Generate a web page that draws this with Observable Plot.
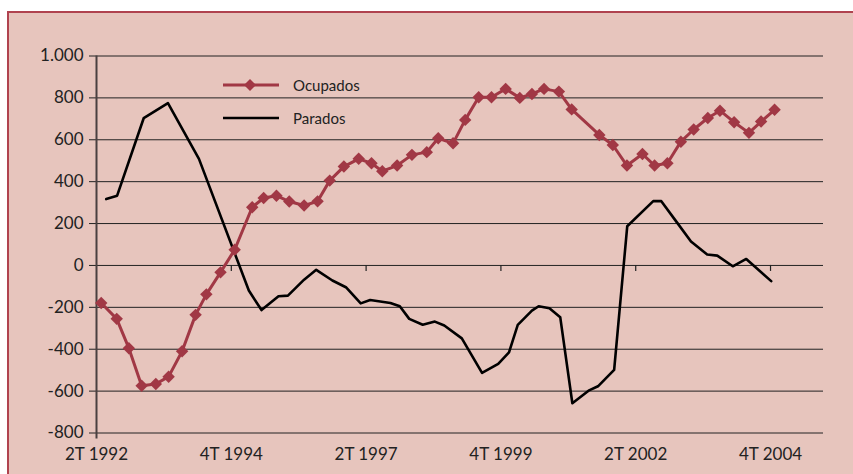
<!DOCTYPE html>
<html>
<head>
<meta charset="utf-8">
<script src="https://cdn.jsdelivr.net/npm/d3@7"></script>
<script src="https://cdn.jsdelivr.net/npm/@observablehq/plot@0.6"></script>
<style>
  html, body { margin: 0; padding: 0; background: #fff; }
  #wrap { position: relative; width: 853px; height: 474px; overflow: hidden; background: #fff; }
  #panel { position: absolute; left: 7px; top: 11px; width: 860px; height: 480px;
           background: #e7c5bd; border: 2px solid #b0434f; box-sizing: border-box; }
  #chart { position: absolute; left: 0; top: 0; }
  #legend { position: absolute; left: 0; top: 0; font-family: Lato, sans-serif; font-size: 15px; color: #222; }
  .lg-item { position: absolute; display: flex; align-items: center; }
  .lg-item span { margin-left: 14px; }
</style>
</head>
<body>
<div id="wrap">
  <div id="panel"></div>
  <div id="chart"></div>
  <div id="legend"></div>
</div>
<script>
// Tick labels / axis values
const xTickQuarters = [0, 10, 20, 30, 40, 50];
const xTickLabels = ["2T 1992", "4T 1994", "2T 1997", "4T 1999", "2T 2002", "4T 2004"];
const yTicks = [-800, -600, -400, -200, 0, 200, 400, 600, 800, 1000];

// Series names
const seriesNames = ["Ocupados", "Parados"];

// Ocupados: position (quarters since 2T 1992) and value
const ocupadosQ = [0.35, 1.5, 2.4, 3.35, 4.4, 5.35, 6.35, 7.35, 8.15, 9.2,
  10.25, 11.55, 12.4, 13.35, 14.3, 15.4, 16.4, 17.3, 18.35, 19.45,
  20.4, 21.2, 22.3, 23.4, 24.5, 25.35, 26.45, 27.35, 28.35, 29.3,
  30.35, 31.4, 32.3, 33.2, 34.3, 35.25, 37.3, 38.3, 39.35, 40.5,
  41.4, 42.35, 43.35, 44.3, 45.35, 46.25, 47.3, 48.4, 49.3, 50.3];
const ocupadosV = [-179, -255, -395, -574, -566, -531, -410, -236, -138, -33,
  75, 278, 322, 333, 305, 286, 306, 405, 472, 509,
  488, 450, 477, 528, 541, 607, 583, 695, 803, 803,
  843, 800, 819, 843, 830, 745, 623, 575, 477, 532,
  477, 488, 591, 649, 704, 739, 684, 633, 687, 743];

// Parados: position and value
const paradosQ = [0.72, 1.53, 3.5, 5.3, 7.6, 11.3, 12.24, 13.5, 14.2, 15.4,
  16.3, 17.5, 18.5, 19.6, 20.3, 21.8, 22.5, 23.2, 24.2, 25.1,
  25.8, 27.1, 28.6, 29.8, 30.6, 31.25, 32.3, 32.8, 33.6, 34.4,
  35.3, 36.5, 37.2, 38.4, 39.37, 41.3, 41.9, 42.96, 44.1, 45.3,
  46.05, 47.2, 48.2, 50.05];
const paradosV = [317, 333, 703, 775, 509, -120, -213, -147, -144, -68,
  -21, -72, -104, -181, -165, -179, -195, -255, -283, -268,
  -287, -348, -513, -470, -415, -284, -216, -195, -204, -247,
  -658, -598, -577, -499, 187, 307, 307, 214, 114, 52,
  47, -4, 31, -75];

const colors = { Ocupados: "#a13845", Parados: "#000000" };

const ocupados = ocupadosQ.map((q, i) => ({ q, v: ocupadosV[i] }));
const parados = paradosQ.map((q, i) => ({ q, v: paradosV[i] }));

const esFmt = d3.formatLocale({ decimal: ",", thousands: ".", grouping: [3], currency: ["", "€"], minus: "-" }).format(",");

const chart = Plot.plot({
  width: 853,
  height: 474,
  marginLeft: 96,
  marginRight: 30,
  marginTop: 55.5,
  marginBottom: 41.5,
  style: { background: "transparent", fontFamily: "Lato, sans-serif", fontSize: "17px", color: "#222" },
  x: { domain: [0, 53.93] },
  y: { domain: [-800, 1000] },
  marks: [
    Plot.ruleY(yTicks, { stroke: "#222", strokeWidth: 1 }),
    Plot.axisY({ ticks: yTicks, tickSize: 7, tickPadding: 6, tickFormat: esFmt, label: null }),
    Plot.axisX({ ticks: xTickQuarters, tickSize: 0, tickPadding: 15, label: null,
                 tickFormat: d => xTickLabels[xTickQuarters.indexOf(d)] }),
    Plot.ruleX(xTickQuarters.slice(1), { y1: 0, y2: 0, insetBottom: -6, stroke: "#222", strokeWidth: 1.2 }),
    Plot.ruleX([0], { y1: 1000, y2: -800, insetBottom: -6, stroke: "#4a4040", strokeWidth: 2 }),
    Plot.line(parados, { x: "q", y: "v", stroke: colors.Parados, strokeWidth: 2.6 }),
    Plot.line(ocupados, { x: "q", y: "v", stroke: colors.Ocupados, strokeWidth: 3 }),
    Plot.dot(ocupados, { x: "q", y: "v", symbol: "diamond2", r: 5.6, fill: colors.Ocupados, stroke: "none" })
  ]
});
document.getElementById("chart").appendChild(chart);

// Legend (inside the plot area, as in the reference)
const legend = document.getElementById("legend");
seriesNames.forEach((name, i) => {
  const item = document.createElement("div");
  item.className = "lg-item";
  item.style.left = "223px";
  item.style.top = (74 + i * 33) + "px";
  const marker = name === "Ocupados"
    ? `<svg width="56" height="22"><line x1="0" y1="11" x2="56" y2="11" stroke="${colors[name]}" stroke-width="3"/><path d="M27,5 L33,11 L27,17 L21,11 Z" fill="${colors[name]}"/></svg>`
    : `<svg width="56" height="22"><line x1="0" y1="11" x2="56" y2="11" stroke="${colors[name]}" stroke-width="2.6"/></svg>`;
  item.innerHTML = marker + `<span>${name}</span>`;
  legend.appendChild(item);
});
</script>
</body>
</html>
